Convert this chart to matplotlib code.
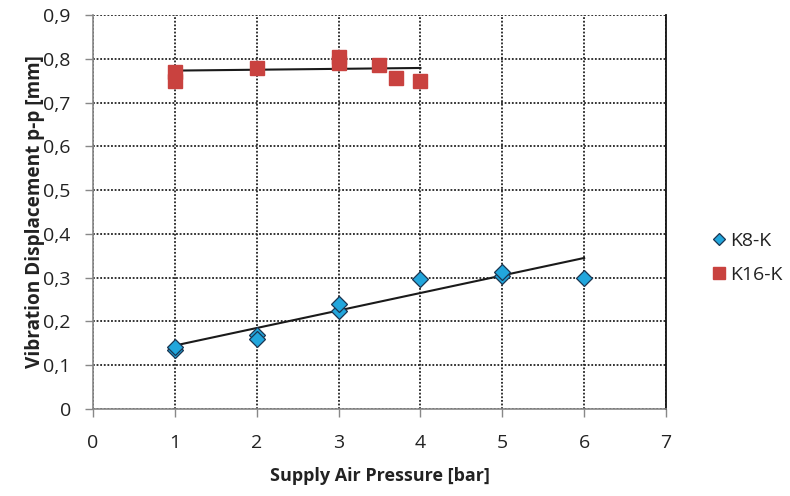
import matplotlib.pyplot as plt
from matplotlib.lines import Line2D

# K8-K measurements
k8_pressure = [1, 1, 2, 2, 3, 3, 4, 5, 5, 6]
k8_disp = [0.135, 0.142, 0.17, 0.16, 0.225, 0.24, 0.298, 0.303, 0.312, 0.30]

# K16-K measurements
k16_pressure = [1, 1, 2, 3, 3, 3.5, 3.7, 4]
k16_disp = [0.75, 0.77, 0.78, 0.79, 0.805, 0.785, 0.755, 0.75]

# trend lines (end points)
k8_trend_x = [1, 6]
k8_trend_y = [0.145, 0.345]
k16_trend_x = [1, 4]
k16_trend_y = [0.773, 0.779]

x_ticks = [0, 1, 2, 3, 4, 5, 6, 7]
y_ticks = [0, 0.1, 0.2, 0.3, 0.4, 0.5, 0.6, 0.7, 0.8, 0.9]

blue = '#22a6dc'
red = '#c9423f'

plt.rcParams['font.family'] = ['Open Sans', 'DejaVu Sans']

fig = plt.figure(figsize=(7.9, 4.96), dpi=100)
ax = fig.add_axes([93 / 790, 1 - 409 / 496, 573 / 790, 394 / 496])

# grid
ax.grid(True, color='#222222', linestyle=(0, (1, 1)), linewidth=1.3)
ax.set_axisbelow(True)

# trend lines
ax.plot(k8_trend_x, k8_trend_y, color='#1a1a1a', linewidth=1.5, zorder=2)
ax.plot(k16_trend_x, k16_trend_y, color='#1a1a1a', linewidth=1.5, zorder=2)

# points
ax.plot(k8_pressure, k8_disp, linestyle='none', marker='D', markersize=7.8,
        markerfacecolor=blue, markeredgecolor='#1b3550', markeredgewidth=0.9, zorder=3)
ax.plot(k16_pressure, k16_disp, linestyle='none', marker='s', markersize=10,
        markerfacecolor=red, markeredgecolor=red, zorder=3)

ax.set_xlim(0, 7)
ax.set_ylim(0, 0.9)
ax.set_xticks(x_ticks)
ax.set_yticks(y_ticks)
ax.set_xticklabels([str(v) for v in x_ticks])
ax.set_yticklabels(['0' if v == 0 else ('%.1f' % v).replace('.', ',') for v in y_ticks])

ax.tick_params(axis='both', direction='out', length=6, width=1, color='#888888',
               labelsize=14, labelcolor='#222222')
ax.tick_params(axis='y', pad=10)
ax.tick_params(axis='x', pad=12)

for side in ['left', 'bottom']:
    ax.spines[side].set_color('#888888')
    ax.spines[side].set_linewidth(1.2)
ax.spines['top'].set_visible(False)
ax.spines['right'].set_color('#111111')
ax.spines['right'].set_linewidth(1.3)

ax.set_xlabel('Supply Air Pressure [bar]', fontsize=13, fontweight='bold',
              color='#222222', labelpad=11)
ax.set_ylabel('Vibration Displacement p-p [mm]', fontsize=13.7, fontweight='bold',
              color='#222222', labelpad=-1)

handles = [
    Line2D([], [], linestyle='none', marker='D', markersize=6.5, markerfacecolor=blue,
           markeredgecolor='#1b3550', markeredgewidth=0.9),
    Line2D([], [], linestyle='none', marker='s', markersize=9,
           markerfacecolor=red, markeredgecolor=red),
]
fig.legend(handles, ['K8-K', 'K16-K'], loc='upper left', bbox_to_anchor=(694 / 790, 1 - 214 / 496),
           frameon=False, fontsize=14, handlelength=0.8, handletextpad=0.15,
           labelspacing=0.85, labelcolor='#222222')

fig.savefig('out.png', dpi=100)
